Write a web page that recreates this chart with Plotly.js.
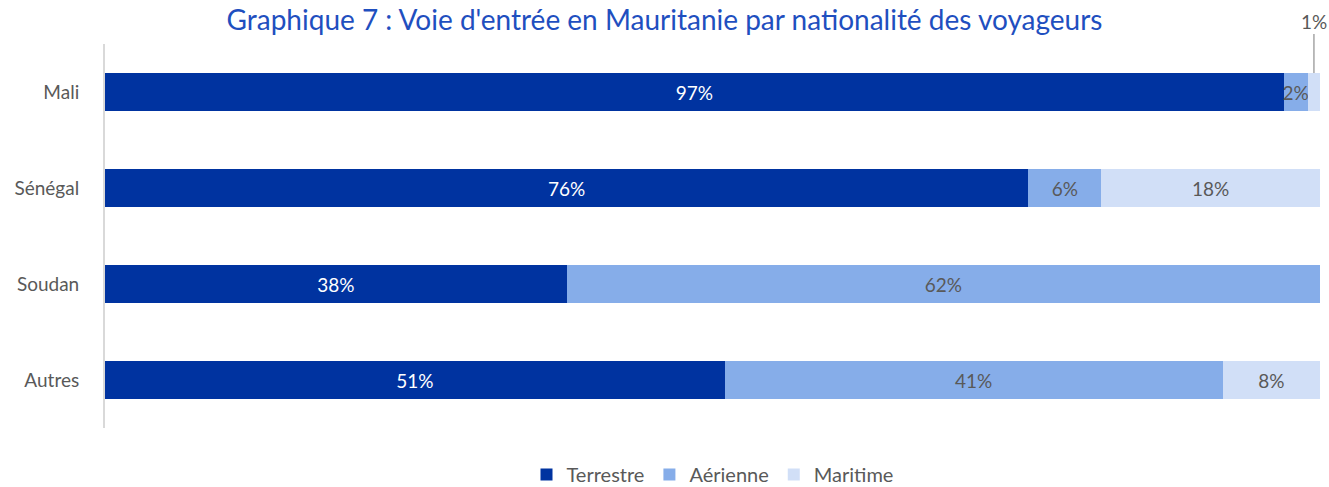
<!DOCTYPE html>
<html>
<head>
<meta charset="utf-8">
<script src="https://cdn.plot.ly/plotly-3.0.1.min.js"></script>
<style>html,body{margin:0;padding:0;background:#fff;}#chart{width:1329px;height:487px;}</style>
</head>
<body>
<div id="chart"></div>
<script>
const categories = ["Mali", "Sénégal", "Soudan", "Autres"];
const terrestre = [97, 76, 38, 51];
const aerienne = [2, 6, 62, 41];
const maritime = [1, 18, 0, 8];
const seriesNames = ["Terrestre", "Aérienne", "Maritime"];
const titleText = "Graphique 7 : Voie d'entrée en Mauritanie par nationalité des voyageurs";

const FONT = "Lato, 'Open Sans', sans-serif";
const colors = ["#0033A0", "#86ADE9", "#D1DFF7"];
const textColors = ["#FFFFFF", "#595959", "#595959"];
const data = [terrestre, aerienne, maritime];

function lbl(v, i, s) {
  if (v === 0) return "";
  if (s === 2 && v < 2) return ""; // tiny slice labelled with annotation
  return v + "%";
}

const traces = data.map((vals, s) => ({
  type: "bar",
  orientation: "h",
  name: seriesNames[s],
  y: categories,
  x: vals,
  marker: {color: colors[s], line: {width: 0}},
  text: vals.map((v, i) => lbl(v, i, s)),
  textposition: "inside",
  insidetextanchor: "middle",
  constraintext: "none",
  textangle: 0,
  textfont: {family: FONT, size: 19, color: textColors[s]},
  hoverinfo: "none",
  cliponaxis: false
}));

const maliTotalBefore = terrestre[0] + aerienne[0];
const annotations = [{
  x: maliTotalBefore + maritime[0] / 2,
  y: categories[0],
  xref: "x", yref: "y",
  text: maritime[0] + "%",
  showarrow: true,
  arrowhead: 0,
  arrowwidth: 1.5,
  arrowcolor: "#A6A6A6",
  ax: 0,
  ay: -52,
  yshift: 19,
  standoff: 0,
  font: {family: FONT, size: 19, color: "#595959"}
}];

const layout = {
  width: 1329, height: 487,
  paper_bgcolor: "#fff", plot_bgcolor: "#fff",
  margin: {l: 105, r: 9, t: 44, b: 59, autoexpand: false},
  barmode: "stack",
  bargap: 0.6,
  showlegend: true,
  title: {
    text: titleText,
    font: {family: FONT, size: 28, color: "#1F4FBF"},
    x: 0.5, xanchor: "center",
    yref: "container", y: 1, yanchor: "top",
    pad: {t: 10}
  },
  xaxis: {
    range: [0, 100], showgrid: false, zeroline: false,
    showticklabels: false, showline: false, fixedrange: true
  },
  yaxis: {
    autorange: "reversed", showgrid: false, zeroline: false,
    showline: true, linecolor: "#D9D9D9", linewidth: 2,
    ticks: "", ticklabelstandoff: 20,
    tickfont: {family: FONT, size: 19, color: "#595959"}
  },
  legend: {
    orientation: "h", x: 0.5, xanchor: "center",
    yref: "paper", y: -0.07, yanchor: "top",
    traceorder: "normal",
    font: {family: FONT, size: 20, color: "#595959"},
    itemwidth: 30, tracegroupgap: 0
  },
  annotations: annotations
};

Plotly.newPlot("chart", traces, layout, {displayModeBar: false, staticPlot: true});
</script>
</body>
</html>
